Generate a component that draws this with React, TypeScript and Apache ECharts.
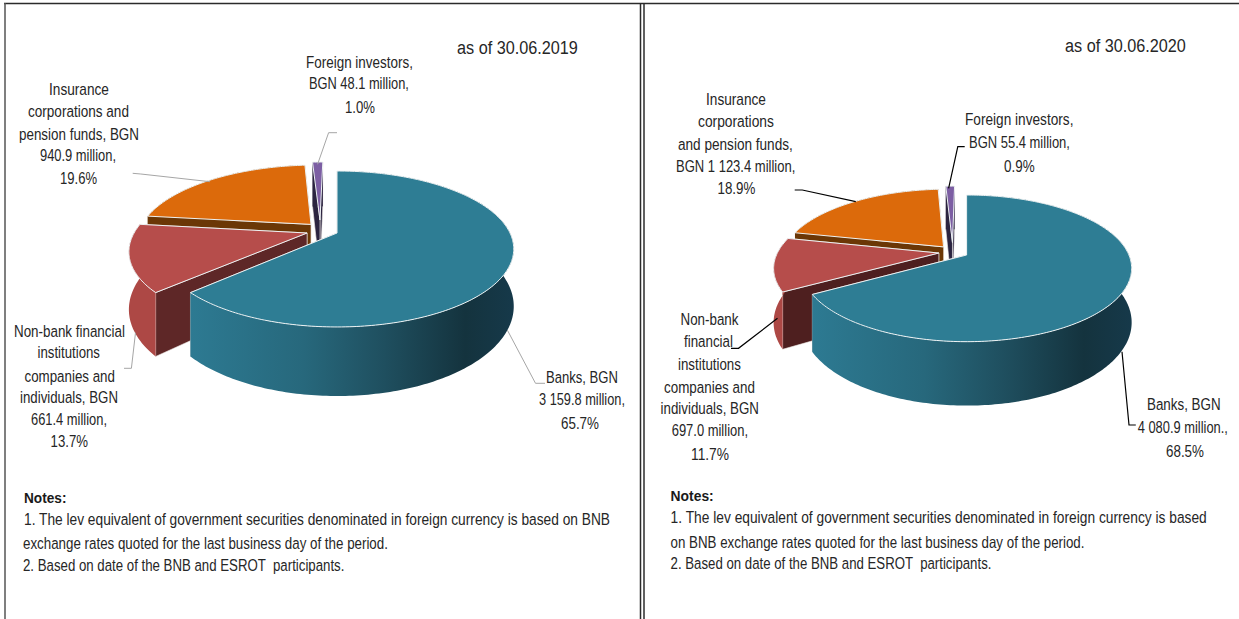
import React, { useEffect, useRef } from "react";
import * as echarts from "echarts";

// ---- data ----
const categories = ["Banks", "Non-bank financial institutions, companies and individuals", "Insurance corporations and pension funds", "Foreign investors"];
const values2019 = [3159.8, 661.4, 940.9, 48.1];
const values2020 = [4080.9, 697.0, 1123.4, 55.4];
const topColors = ["#2e7d94", "#b64d4b", "#dc6a0b", "#7c5ea3"];

// ---- look ----
const FONT = '"Liberation Sans"';
const W = 1239;
const H = 619;
type Geo = {
  cx: number; cy: number; a: number; b: number; k: number; d: number; warp: number;
  offsets: number[][]; faces: string[]; stroke: string;
};
const geo2019: Geo = {
  cx: 337, cy: 233, a: 74.7, b: 173, k: 0.205, d: 54.9, warp: 10,
  offsets: [[0, 0], [-0.173, 0], [-0.154, -0.118], [-0.102, -0.18]],
  faces: ["#1a4a5a", "#5e2727", "#6b3706", "#2b2440"], stroke: "#a6a6a6",
};
const geo2020: Geo = {
  cx: 966.6, cy: 255, a: 70.9, b: 162.3, k: 0.182, d: 52.3, warp: 7,
  offsets: [[0, 0], [-0.172, -0.028], [-0.145, -0.117], [-0.09, -0.18]],
  faces: ["#1a4a5a", "#4e1f1f", "#6b3706", "#2b2440"], stroke: "#000000",
};

// [text, left, right, middleY]
type Line = [string, number, number, number];
const labelLines: Line[] = [
  ["Foreign investors,", 306, 413, 61.7],
  ["BGN 48.1 million,", 309, 409, 82.7],
  ["1.0%", 345, 375, 106.7],
  ["Insurance", 49, 109, 88.7],
  ["corporations and", 28, 129, 110.7],
  ["pension funds, BGN", 19, 139, 134.3],
  ["940.9 million,", 40, 116, 155.3],
  ["19.6%", 60, 97, 177.7],
  ["Non-bank financial", 14, 125, 330.7],
  ["institutions", 37.5, 100, 351.7],
  ["companies and", 24.5, 115, 375.7],
  ["individuals, BGN", 20, 118, 397.3],
  ["661.4 million,", 31, 107, 419.3],
  ["13.7%", 50.6, 88, 440.7],
  ["Banks, BGN", 546, 618, 376.7],
  ["3 159.8 million,", 539, 625, 398.7],
  ["65.7%", 561, 599, 422.7],
  ["Insurance", 706, 766, 98.7],
  ["corporations", 698, 774, 120.7],
  ["and pension funds,", 678, 793, 144.3],
  ["BGN 1 123.4 million,", 676, 795.5, 165.7],
  ["18.9%", 717.5, 755.4, 187.7],
  ["Foreign investors,", 965, 1073.5, 119.3],
  ["BGN 55.4 million,", 969, 1070, 141.7],
  ["0.9%", 1004, 1034.6, 165.7],
  ["Non-bank", 680.5, 738.5, 319.3],
  ["financial", 684, 733, 340.7],
  ["institutions", 678, 741, 364.3],
  ["companies and", 664, 755, 386.7],
  ["individuals, BGN", 660.6, 759, 408.3],
  ["697.0 million,", 671.7, 748, 430],
  ["11.7%", 691, 729, 454],
  ["Banks, BGN", 1147, 1220.6, 404.3],
  ["4 080.9 million.,", 1137.7, 1228, 427],
  ["68.5%", 1166, 1204, 451],
];
const titleLines: Line[] = [
  ["as of 30.06.2019", 457, 578, 48],
  ["as of 30.06.2020", 1065, 1186, 46],
];
const noteHeads: Line[] = [
  ["Notes:", 24, 66.5, 497.7],
  ["Notes:", 670.6, 713.7, 495.7],
];
const noteLines: Line[] = [
  ["1. The lev equivalent of government securities denominated in foreign currency is based on BNB", 24, 611, 519],
  ["exchange rates quoted for the last business day of the period.", 23, 388, 542.7],
  ["2. Based on date of the BNB and ESROT  participants.", 23, 345, 565],
  ["1. The lev equivalent of government securities denominated in foreign currency is based", 670.6, 1207.6, 517.3],
  ["on BNB exchange rates quoted for the last business day of the period.", 670.6, 1085, 541.7],
  ["2. Based on date of the BNB and ESROT  participants.", 670.6, 992, 563.3],
];
const leaders2019 = [
  [[337, 132.7], [328.6, 132.7], [317.6, 164.3]],
  [[132.7, 173.3], [140.8, 174], [210, 181.7]],
  [[135.5, 332.7], [131.4, 368.3], [124, 368.3]],
  [[507.3, 330], [535.5, 383.3], [545, 383.3]],
];
const leaders2020 = [
  [[794.7, 190], [802.3, 190], [855.8, 201.7]],
  [[964.7, 146.7], [957.8, 146.7], [948.6, 188.3]],
  [[777.5, 318.3], [738.5, 348.3], [731, 348.3]],
  [[1122, 351.7], [1129, 425], [1135.8, 425]],
];

const measure = (() => {
  const ctx = document.createElement("canvas").getContext("2d")!;
  return (t: string, font: string) => {
    ctx.font = font;
    return ctx.measureText(t).width;
  };
})();

function textEl(line: Line, size: number, bold = false) {
  const [t, l, r, y] = line;
  const weight = bold ? "bold " : "";
  const natural = measure(t, `${weight}${size}px ${FONT}`);
  return {
    type: "text", x: l, y, scaleX: (r - l) / natural, silent: true, z: 10,
    style: {
      text: t, fontFamily: "Liberation Sans", fontSize: size, fontWeight: bold ? "bold" : "normal",
      fill: bold ? "#1a1a1a" : "#262626", textAlign: "left", textVerticalAlign: "middle",
    },
  };
}

function pieSeries(values: number[], g: Geo) {
  const total = values.reduce((p, c) => p + c, 0);
  const warp = (t: number) => t - g.warp * Math.sin(Math.PI * (t / 360) * (t / 360));
  const starts: number[] = [];
  let acc = 0;
  values.forEach((v) => {
    starts.push(acc);
    acc += (v / total) * 360;
  });
  const proj = (theta: number | null, i: number, lower: boolean) => {
    const rad = ((theta ?? 0) * Math.PI) / 180;
    const s = (theta === null ? 0 : Math.sin(rad)) + g.offsets[i][0];
    const v = (theta === null ? 0 : -Math.cos(rad)) + g.offsets[i][1];
    const den = 1 - g.k * v;
    return [g.cx + (g.b * s) / den, g.cy + (g.a * v + (lower ? g.d : 0)) / den];
  };
  const order = values.map((_, i) => values.length - 1 - i);
  return {
    type: "custom",
    coordinateSystem: "none",
    silent: true,
    animation: false,
    data: order.map((i) => values[i]),
    renderItem: (params: any) => {
      const i = order[params.dataIndex];
      const t0 = warp(starts[i]);
      const t1 = warp(starts[i] + (values[i] / total) * 360);
      const upper: number[][] = [];
      const lowerPts: number[][] = [];
      const n = Math.max(3, Math.ceil(t1 - t0));
      for (let j = 0; j <= n; j++) {
        const t = t0 + ((t1 - t0) * j) / n;
        upper.push(proj(t, i, false));
        lowerPts.push(proj(t, i, true));
      }
      const apex = proj(null, i, false);
      const apexLow = proj(null, i, true);
      const faceStyle = { fill: g.faces[i], stroke: "#efe9e6", lineWidth: 0.6 };
      const sideFill =
        i === 0
          ? new echarts.graphic.LinearGradient(0, 0, 1, 0, [
              { offset: 0, color: "#2d7a92" },
              { offset: 0.35, color: "#27687c" },
              { offset: 0.6, color: "#1f4f5f" },
              { offset: 0.85, color: "#14333e" },
              { offset: 1, color: "#16394a" },
            ])
          : i === 1
          ? "#ad4845"
          : g.faces[i];
      return {
        type: "group",
        children: [
          {
            type: "polygon",
            shape: { points: [apex, upper[n], lowerPts[n], apexLow] },
            style: faceStyle,
          },
          {
            type: "polygon",
            shape: { points: [apex, upper[0], lowerPts[0], apexLow] },
            style: faceStyle,
          },
          {
            type: "polygon",
            shape: { points: [...upper, ...lowerPts.slice().reverse()] },
            style: { fill: sideFill },
          },
          {
            type: "polygon",
            shape: { points: [apex, ...upper] },
            style: { fill: topColors[i], stroke: "#eef3f4", lineWidth: 1 },
          },
        ],
      };
    },
  };
}

function leaderEls(list: number[][][], color: string, width: number) {
  return list.map((points) => ({
    type: "polyline", silent: true, z: 9, shape: { points },
    style: { stroke: color, lineWidth: width, fill: "none" },
  }));
}
function frameLine(x1: number, y1: number, x2: number, y2: number, color = "#2b2b2b", w = 1.5) {
  return { type: "line", silent: true, z: 11, shape: { x1, y1, x2, y2 }, style: { stroke: color, lineWidth: w } };
}

export default function App() {
  const ref = useRef<HTMLDivElement>(null);
  useEffect(() => {
    const chart = echarts.init(ref.current!, undefined, { renderer: "svg" });
    chart.setOption({
      animation: false,
      backgroundColor: "#ffffff",
      series: [pieSeries(values2019, geo2019), pieSeries(values2020, geo2020)],
      graphic: [
        frameLine(4, 3.5, 1239, 3.5),
        frameLine(5, 3, 5, 619, "#555555"),
        frameLine(640.5, 3, 640.5, 619),
        frameLine(644, 3, 644, 619),
        ...leaderEls(leaders2019, geo2019.stroke, 1),
        ...leaderEls(leaders2020, geo2020.stroke, 1.2),
        ...titleLines.map((l) => textEl(l, 19)),
        ...labelLines.map((l) => textEl(l, 17)),
        ...noteHeads.map((l) => textEl(l, 15, true)),
        ...noteLines.map((l) => textEl(l, 16.5)),
      ],
    });
    return () => chart.dispose();
  }, []);
  return <div ref={ref} style={{ position: "fixed", left: 0, top: 0, width: W, height: H }} />;
}
